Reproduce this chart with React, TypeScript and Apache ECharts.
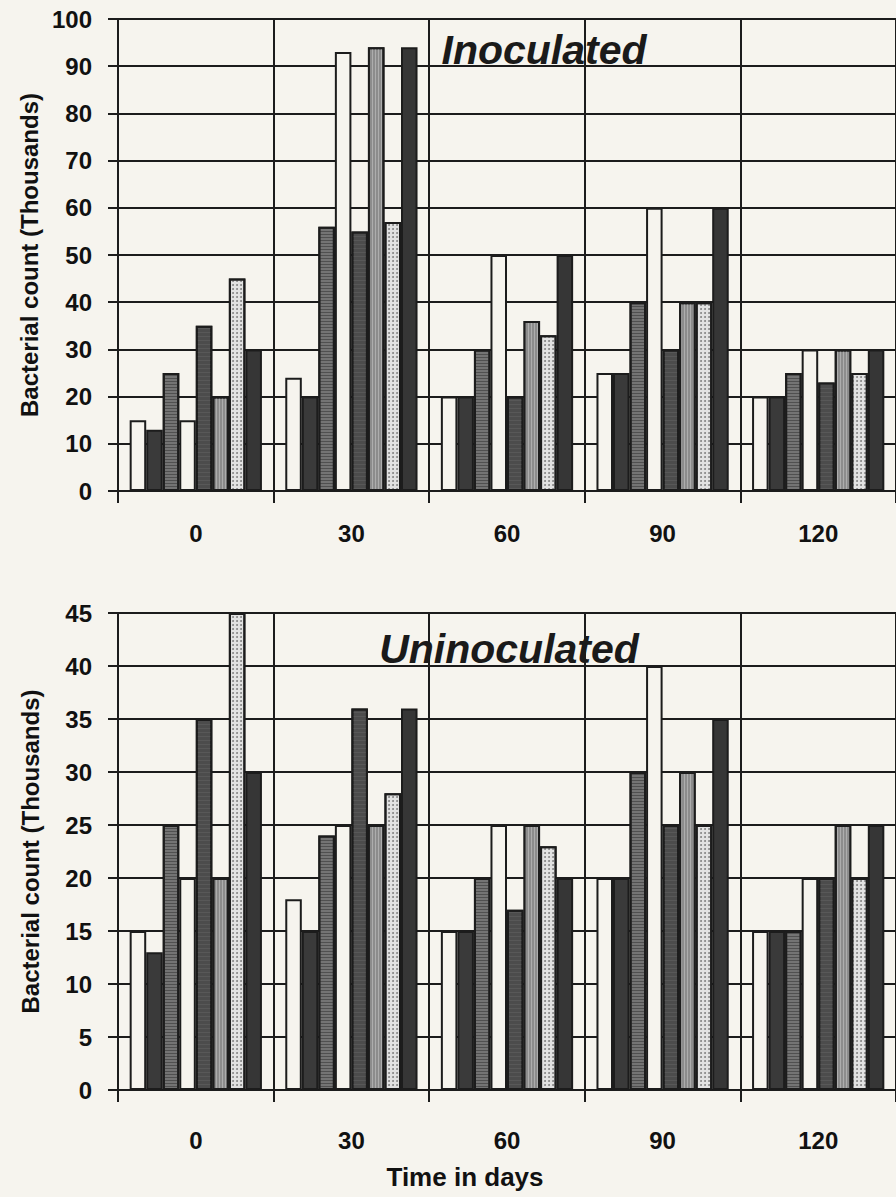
import React, { useEffect, useRef } from "react";
import * as echarts from "echarts";

const categories = ["0", "30", "60", "90", "120"];
const seriesNames = ["T1", "T2", "T3", "T4", "T5", "T6", "T7", "T8"];

// Inoculated (thousands)
const inocT1 = [15, 24, 20, 25, 20];
const inocT2 = [13, 20, 20, 25, 20];
const inocT3 = [25, 56, 30, 40, 25];
const inocT4 = [15, 93, 50, 60, 30];
const inocT5 = [35, 55, 20, 30, 23];
const inocT6 = [20, 94, 36, 40, 30];
const inocT7 = [45, 57, 33, 40, 25];
const inocT8 = [30, 94, 50, 60, 30];

// Uninoculated (thousands)
const uninT1 = [15, 18, 15, 20, 15];
const uninT2 = [13, 15, 15, 20, 15];
const uninT3 = [25, 24, 20, 30, 15];
const uninT4 = [20, 25, 25, 40, 20];
const uninT5 = [35, 36, 17, 25, 20];
const uninT6 = [20, 25, 25, 30, 25];
const uninT7 = [45, 28, 23, 25, 20];
const uninT8 = [30, 36, 20, 35, 25];

const topTicks = { min: 0, max: 100, interval: 10 };
const bottomTicks = { min: 0, max: 45, interval: 5 };

const BG = "#f6f4ee";
const INK = "#1c1c1c";
const FONT = "'Liberation Sans', Arial, Helvetica, sans-serif";

const styles: any[] = [
  { color: BG },
  { color: "#3a3a3a" },
  {
    color: "#747474",
    decal: { symbol: "rect", symbolSize: 1, dashArrayX: [1, 0], dashArrayY: [1, 2], color: "rgba(50,50,50,0.55)" },
  },
  { color: BG },
  {
    color: "#4c4c4c",
    decal: { symbol: "rect", symbolSize: 1, dashArrayX: [1, 0], dashArrayY: [1, 3], color: "rgba(110,110,110,0.35)" },
  },
  {
    color: "#8c8c8c",
    decal: { symbol: "rect", symbolSize: 1, dashArrayX: [1, 2], dashArrayY: [1, 0], color: "rgba(200,200,200,0.55)" },
  },
  {
    color: "#e2e2e2",
    decal: { symbol: "circle", symbolSize: 0.9, dashArrayX: [2, 2], dashArrayY: [2, 2], color: "rgba(80,80,80,0.7)" },
  },
  { color: "#363636" },
];

const inocData = [inocT1, inocT2, inocT3, inocT4, inocT5, inocT6, inocT7, inocT8];
const uninData = [uninT1, uninT2, uninT3, uninT4, uninT5, uninT6, uninT7, uninT8];

export default function App() {
  const ref = useRef<HTMLDivElement>(null);

  useEffect(() => {
    if (!ref.current) return;
    const chart = echarts.init(ref.current, undefined, { renderer: "svg" });

    const mkX = (gridIndex: number, margin: number) => ({
      type: "category",
      gridIndex,
      data: categories,
      boundaryGap: true,
      axisLine: { show: true, lineStyle: { color: INK, width: 2 } },
      axisTick: { show: true, length: 12, alignWithLabel: false, lineStyle: { color: INK, width: 2 } },
      axisLabel: { margin, color: "#111", fontSize: 24, fontWeight: "bold", fontFamily: FONT },
      splitLine: { show: true, interval: 0, lineStyle: { color: INK, width: 2 } },
    });

    const mkY = (gridIndex: number, t: any) => ({
      type: "value",
      gridIndex,
      min: t.min,
      max: t.max,
      interval: t.interval,
      name: "Bacterial count (Thousands)",
      nameLocation: "middle",
      nameGap: 76,
      nameTextStyle: { color: "#111", fontSize: 24, fontWeight: "bold", fontFamily: FONT },
      axisLine: { show: true, lineStyle: { color: INK, width: 2 } },
      axisTick: { show: true, length: 10, lineStyle: { color: INK, width: 2 } },
      axisLabel: { margin: 26, color: "#111", fontSize: 24, fontWeight: "bold", fontFamily: FONT },
      splitLine: { show: true, lineStyle: { color: INK, width: 2 } },
    });

    const mkSeries = (data: number[][], idx: number) =>
      data.map((vals, i) => ({
        name: seriesNames[i],
        type: "bar",
        xAxisIndex: idx,
        yAxisIndex: idx,
        data: vals,
        barGap: "0%",
        barCategoryGap: "15%",
        itemStyle: { ...styles[i], borderColor: INK, borderWidth: 2 },
      }));

    chart.setOption({
      animation: false,
      backgroundColor: BG,
      grid: [
        { left: 118, right: -7, top: 19, height: 472 },
        { left: 118, right: -7, top: 613, height: 477 },
      ],
      xAxis: [mkX(0, 30), mkX(1, 38)],
      yAxis: [mkY(0, topTicks), mkY(1, bottomTicks)],
      series: [...mkSeries(inocData, 0), ...mkSeries(uninData, 1)],
      graphic: [
        {
          type: "text",
          x: 544,
          y: 50,
          z: 100,
          style: {
            text: "Inoculated",
            fontSize: 41,
            fontWeight: "bold",
            fontStyle: "italic",
            fontFamily: FONT,
            fill: "#1a1a1a",
            align: "center",
            verticalAlign: "middle",
          },
        },
        {
          type: "text",
          x: 509,
          y: 649,
          z: 100,
          style: {
            text: "Uninoculated",
            fontSize: 41,
            fontWeight: "bold",
            fontStyle: "italic",
            fontFamily: FONT,
            fill: "#1a1a1a",
            align: "center",
            verticalAlign: "middle",
          },
        },
        {
          type: "text",
          x: 465,
          y: 1177,
          z: 100,
          style: {
            text: "Time in days",
            fontSize: 26,
            fontWeight: "bold",
            fontFamily: FONT,
            fill: "#111",
            align: "center",
            verticalAlign: "middle",
          },
        },
      ],
    });

    return () => chart.dispose();
  }, []);

  return (
    <div
      ref={ref}
      style={{ position: "absolute", left: 0, top: 0, width: 896, height: 1197 }}
    />
  );
}
